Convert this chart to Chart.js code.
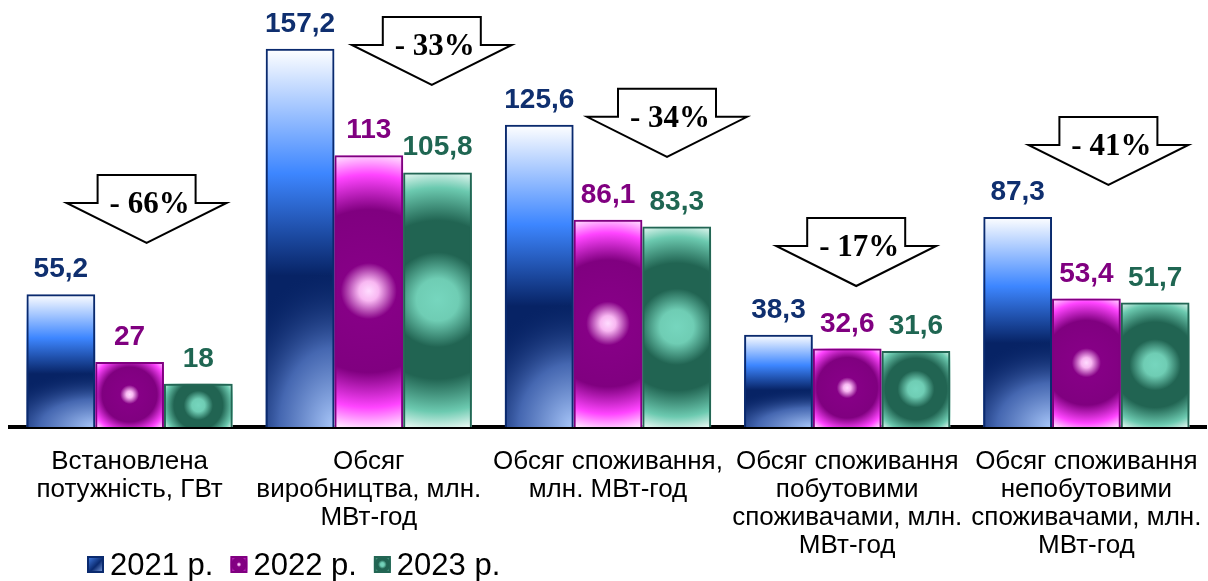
<!DOCTYPE html>
<html lang="uk">
<head>
<meta charset="utf-8">
<title>Енергетика 2021–2023</title>
<script src="https://cdn.jsdelivr.net/npm/chart.js@4.4.1/dist/chart.umd.min.js"></script>
<style>
	html, body { margin: 0; padding: 0; background: #fff; }
	#wrap { position: relative; width: 1208px; height: 581px; }
</style>
</head>
<body>
<div id="wrap"><canvas id="energyChart" width="1208" height="581"></canvas></div>
<script>
// Categories (multi-line axis labels) and yearly values
var categories = [
	['Встановлена', 'потужність, ГВт'],
	['Обсяг', 'виробництва, млн.', 'МВт-год'],
	['Обсяг споживання,', 'млн. МВт-год'],
	['Обсяг споживання', 'побутовими', 'споживачами, млн.', 'МВт-год'],
	['Обсяг споживання', 'непобутовими', 'споживачами, млн.', 'МВт-год']
];
var years = ['2021 р.', '2022 р.', '2023 р.'];
var values2021 = [55.2, 157.2, 125.6, 38.3, 87.3];
var values2022 = [27, 113, 86.1, 32.6, 53.4];
var values2023 = [18, 105.8, 83.3, 31.6, 51.7];
// change 2023 vs 2021, %
var changePct = [-66, -33, -34, -17, -41];

// Arrow placement: shift from category centre (px) and the y value the tip points at
var arrowShift = [17, 63, 59, 9, 22];
var arrowTip = [76.5, 142.2, 112.3, 58.6, 100.6];

var SANS = "'Liberation Sans', Arial, sans-serif";
var SERIF = "'Liberation Serif', 'Times New Roman', serif";

var borderColors = ['#0a2a6e', '#800080', '#236654'];
var labelColors = ['#0f2f6f', '#800080', '#1f6652'];

var purpleStops = [[0, '#ffdcff'], [0.07, '#f8b8f2'], [0.2, '#860086'], [0.58, '#800080'], [0.83, '#ff44ff'], [1, '#fff2ff']];
var greenStops = [[0, '#76d6be'], [0.16, '#6fcdb4'], [0.36, '#216452'], [0.6, '#216452'], [0.85, '#6ccab0'], [1, '#eefaf6']];

/**
 * Blue fill: white top fading through bright blue to navy, light glow from lower right corner
 */
function paintBlue(ctx, x, y, w, h) {
	var g = ctx.createLinearGradient(0, y, 0, y + h);
	g.addColorStop(0, '#ffffff');
	g.addColorStop(0.33, '#3d86ff');
	g.addColorStop(0.6, '#072365');
	g.addColorStop(1, '#072365');
	ctx.fillStyle = g;
	ctx.fillRect(x, y, w, h);

	ctx.save();
	ctx.beginPath();
	ctx.rect(x, y, w, h);
	ctx.clip();
	var ry = h * 0.42, rx = w * 1.6;
	ctx.translate(x + w, y + h);
	ctx.scale(rx / ry, 1);
	var r = ctx.createRadialGradient(0, 0, 0, 0, 0, ry);
	r.addColorStop(0, 'rgba(170,200,250,1)');
	r.addColorStop(0.5, 'rgba(80,115,190,0.85)');
	r.addColorStop(1, 'rgba(7,35,101,0)');
	ctx.fillStyle = r;
	ctx.fillRect(-w * ry / rx - 1, -h - 1, w * ry / rx + 2, h + 2);
	ctx.restore();
}

/**
 * Concentric fill centred in the bar
 */
function paintRings(ctx, x, y, w, h, stops) {
	var cx = x + w / 2, cy = y + h / 2, rad = Math.sqrt(w * w + h * h) / 2;
	var g = ctx.createRadialGradient(cx, cy, 0, cx, cy, rad);
	stops.forEach(function (s) { g.addColorStop(s[0], s[1]); });
	ctx.fillStyle = g;
	ctx.fillRect(x, y, w, h);
}

var barPainters = [
	paintBlue,
	function (ctx, x, y, w, h) { paintRings(ctx, x, y, w, h, purpleStops); },
	function (ctx, x, y, w, h) { paintRings(ctx, x, y, w, h, greenStops); }
];

function fmt(v) {
	return String(v).replace('.', ',');
}

// Gradient fills under the bar borders
var barFillPlugin = {
	id: 'barFills',
	beforeDatasetsDraw: function (chart) {
		var ctx = chart.ctx;
		chart.data.datasets.forEach(function (ds, i) {
			chart.getDatasetMeta(i).data.forEach(function (bar) {
				var p = bar.getProps(['x', 'y', 'base', 'width'], true);
				ctx.save();
				barPainters[i](ctx, p.x - p.width / 2, p.y, p.width, p.base - p.y);
				ctx.restore();
			});
		});
	}
};

// Value above each bar
var valueLabelPlugin = {
	id: 'valueLabels',
	afterDatasetsDraw: function (chart) {
		var ctx = chart.ctx;
		ctx.save();
		ctx.font = 'bold 28px ' + SANS;
		ctx.textAlign = 'center';
		ctx.textBaseline = 'alphabetic';
		chart.data.datasets.forEach(function (ds, i) {
			ctx.fillStyle = labelColors[i];
			chart.getDatasetMeta(i).data.forEach(function (bar, j) {
				ctx.fillText(fmt(ds.data[j]), bar.x, bar.y - 17);
			});
		});
		ctx.restore();
	}
};

// Down arrows with percentage change
var arrowPlugin = {
	id: 'changeArrows',
	afterDatasetsDraw: function (chart) {
		var ctx = chart.ctx;
		var stemW = 98, headW = 160, stemH = 28, headH = 40;
		ctx.save();
		changePct.forEach(function (pct, i) {
			var cx = chart.scales.x.getPixelForValue(i) + arrowShift[i];
			var tip = chart.scales.y.getPixelForValue(arrowTip[i]);
			var sh = tip - headH, top = sh - stemH;
			ctx.beginPath();
			ctx.moveTo(cx - stemW / 2, top);
			ctx.lineTo(cx + stemW / 2, top);
			ctx.lineTo(cx + stemW / 2, sh);
			ctx.lineTo(cx + headW / 2, sh);
			ctx.lineTo(cx, tip);
			ctx.lineTo(cx - headW / 2, sh);
			ctx.lineTo(cx - stemW / 2, sh);
			ctx.closePath();
			ctx.fillStyle = '#ffffff';
			ctx.fill();
			ctx.lineWidth = 2;
			ctx.lineJoin = 'miter';
			ctx.strokeStyle = '#000000';
			ctx.stroke();

			ctx.fillStyle = '#000000';
			ctx.font = 'bold 31px ' + SERIF;
			ctx.textAlign = 'center';
			ctx.textBaseline = 'alphabetic';
			ctx.fillText('- ' + Math.abs(pct) + '%', cx + 3, top + 38);
		});
		ctx.restore();
	}
};

// Legend row in the lower left corner
var legendPlugin = {
	id: 'yearLegend',
	afterDraw: function (chart) {
		var ctx = chart.ctx;
		var x = 87, boxY = 556, box = 17;
		ctx.save();
		ctx.font = '31px ' + SANS;
		ctx.textBaseline = 'alphabetic';
		ctx.textAlign = 'left';
		years.forEach(function (label, i) {
			if (i === 0) {
				var g = ctx.createLinearGradient(x, boxY, x + box, boxY + box);
				g.addColorStop(0, '#4a88f2');
				g.addColorStop(0.55, '#0a2a70');
				g.addColorStop(1, '#8fb0f0');
				ctx.fillStyle = g;
				ctx.fillRect(x, boxY, box, box);
			} else {
				paintRings(ctx, x, boxY, box, box, i === 1 ? purpleStops : greenStops);
			}
			ctx.lineWidth = 2;
			ctx.strokeStyle = borderColors[i];
			ctx.strokeRect(x + 1, boxY + 1, box - 2, box - 2);
			ctx.fillStyle = '#000000';
			ctx.fillText(label, x + box + 6, 575);
			x += box + 6 + ctx.measureText(label).width + 17;
		});
		ctx.restore();
	}
};

function makeDataset(label, data, i) {
	return {
		label: label,
		data: data,
		backgroundColor: 'rgba(0,0,0,0)',
		borderColor: borderColors[i],
		borderWidth: 2,
		categoryPercentage: 0.862,
		barPercentage: 1.0
	};
}

var energyChart = new Chart(document.getElementById('energyChart'), {
	type: 'bar',
	data: {
		labels: categories,
		datasets: [
			makeDataset(years[0], values2021, 0),
			makeDataset(years[1], values2022, 1),
			makeDataset(years[2], values2023, 2)
		]
	},
	options: {
		responsive: false,
		animation: false,
		devicePixelRatio: 1,
		layout: { padding: { top: 18, left: 10, right: 2, bottom: 0 } },
		plugins: {
			legend: { display: false },
			tooltip: { enabled: false }
		},
		scales: {
			x: {
				grid: { display: false, drawTicks: false },
				border: { display: true, color: '#000000', width: 4 },
				ticks: {
					autoSkip: false,
					maxRotation: 0,
					minRotation: 0,
					padding: 21,
					color: '#000000',
					font: { family: SANS, size: 26, lineHeight: 1.077 }
				},
				afterFit: function (scale) {
					// fixed band for the labels; wide edge labels should not shrink the plot
					scale.height = 154;
					scale.paddingLeft = 0;
					scale.paddingRight = 0;
				}
			},
			y: {
				display: false,
				min: 0,
				max: 170
			}
		}
	},
	plugins: [barFillPlugin, valueLabelPlugin, arrowPlugin, legendPlugin]
});
</script>
</body>
</html>
